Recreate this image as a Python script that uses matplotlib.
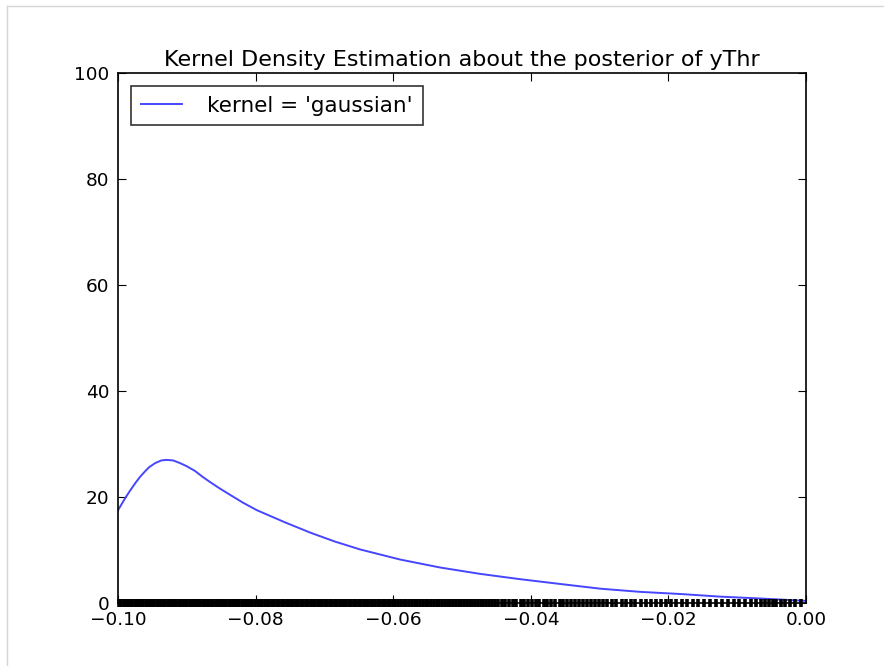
import matplotlib
matplotlib.use('Agg')
import matplotlib.pyplot as plt
from matplotlib.lines import Line2D
from matplotlib.ticker import FuncFormatter

# density curve read along the x axis
kde_x = [-0.1000, -0.0990, -0.0983, -0.0975, -0.0968, -0.0961, -0.0955, -0.0946,
         -0.0937, -0.0929, -0.0920, -0.0910, -0.0900, -0.0888, -0.0877, -0.0866,
         -0.0852, -0.0837, -0.0818, -0.0798, -0.0757, -0.0721, -0.0685, -0.0648,
         -0.0590, -0.0532, -0.0474, -0.0416, -0.0358, -0.0299, -0.0241, -0.0183,
         -0.0125, -0.0067, -0.0030, 0.0000]
kde_y = [17.5, 19.7, 21.1, 22.6, 23.8, 24.8, 25.6, 26.4,
         26.9, 27.0, 26.9, 26.4, 25.8, 24.9, 23.8, 22.8,
         21.6, 20.4, 18.9, 17.5, 15.2, 13.3, 11.6, 10.1,
         8.2, 6.7, 5.5, 4.5, 3.6, 2.7, 2.1, 1.7,
         1.2, 0.85, 0.6, 0.4]

# posterior samples of yThr (rug)
rug_a = [-0.0998, -0.0995, -0.0992, -0.0988, -0.0985, -0.0982, -0.0979, -0.0976, -0.0972, -0.0969,
         -0.0966, -0.0963, -0.0960, -0.0957, -0.0953, -0.0950, -0.0947, -0.0944, -0.0941, -0.0938,
         -0.0934, -0.0931, -0.0928, -0.0925, -0.0922, -0.0919, -0.0915, -0.0912, -0.0909, -0.0906,
         -0.0903, -0.0900, -0.0896, -0.0893, -0.0890, -0.0887, -0.0884, -0.0881, -0.0877, -0.0874,
         -0.0871, -0.0868, -0.0865, -0.0862, -0.0858, -0.0855, -0.0852, -0.0849, -0.0846, -0.0843,
         -0.0839, -0.0836, -0.0833, -0.0830, -0.0827, -0.0824, -0.0820, -0.0817, -0.0814, -0.0811,
         -0.0808, -0.0805, -0.0801]
rug_b = [-0.0797, -0.0794, -0.0790, -0.0787, -0.0783, -0.0780, -0.0776, -0.0773, -0.0769, -0.0766,
         -0.0762, -0.0759, -0.0755, -0.0752, -0.0748, -0.0745, -0.0741, -0.0738, -0.0734, -0.0731,
         -0.0727, -0.0724, -0.0720, -0.0717, -0.0713, -0.0710, -0.0706, -0.0703, -0.0699, -0.0696,
         -0.0692, -0.0689, -0.0685, -0.0682, -0.0678, -0.0675, -0.0671, -0.0668, -0.0664, -0.0661,
         -0.0657, -0.0654, -0.0650, -0.0647, -0.0643, -0.0640, -0.0636, -0.0633, -0.0629, -0.0626,
         -0.0622, -0.0619, -0.0615, -0.0612, -0.0608, -0.0605, -0.0601]
rug_c = [-0.0597, -0.0593, -0.0589, -0.0585, -0.0581, -0.0577, -0.0573, -0.0569, -0.0565, -0.0561,
         -0.0557, -0.0553, -0.0549, -0.0545, -0.0541, -0.0537, -0.0533, -0.0529, -0.0525, -0.0521,
         -0.0517, -0.0513, -0.0509, -0.0505, -0.0501, -0.0497, -0.0493, -0.0489, -0.0485, -0.0481,
         -0.0477, -0.0473, -0.0469, -0.0465, -0.0461, -0.0457]
rug_d = [-0.0452, -0.0447, -0.0442, -0.0437, -0.0431, -0.0426, -0.0421, -0.0415, -0.0410, -0.0404,
         -0.0399, -0.0393, -0.0388, -0.0381, -0.0376, -0.0370, -0.0365, -0.0358, -0.0353, -0.0347,
         -0.0341, -0.0336, -0.0330, -0.0324, -0.0319, -0.0313, -0.0306, -0.0301]
rug_e = [-0.0295, -0.0289, -0.0282, -0.0276, -0.0268, -0.0262, -0.0255, -0.0248, -0.0240, -0.0233,
         -0.0226, -0.0218, -0.0211, -0.0204, -0.0196, -0.0189, -0.0181, -0.0173, -0.0165, -0.0157]
rug_f = [-0.0148, -0.0139, -0.0131, -0.0122, -0.0114, -0.0105, -0.0097, -0.0088, -0.0080, -0.0073,
         -0.0066, -0.0060, -0.0054, -0.0048, -0.0043, -0.0037, -0.0031, -0.0024, -0.0016, -0.0008]
samples = rug_a + rug_b + rug_c + rug_d + rug_e + rug_f

x_ticks = [-0.10, -0.08, -0.06, -0.04, -0.02, 0.00]
y_ticks = [0, 20, 40, 60, 80, 100]

fig = plt.figure(figsize=(8.84, 6.66), dpi=100)
fig.patch.set_facecolor('white')
ax = fig.add_axes([0.1335, 0.0946, 0.7783, 0.7958])

ax.plot(kde_x, kde_y, color='#4646ff', lw=1.4, label="kernel = 'gaussian'")
ax.plot(samples, [0] * len(samples), '|', color='black', markersize=6,
        markeredgewidth=2.6, clip_on=False)

ax.set_xlim(-0.1, 0.0)
ax.set_ylim(0, 100)
ax.set_xticks(x_ticks)
ax.set_yticks(y_ticks)
ax.xaxis.set_major_formatter(FuncFormatter(
    lambda v, p: ('%.2f' % v).replace('-', '\u2212') if abs(v) > 1e-9 else '0.00'))
ax.tick_params(direction='in', length=6, width=0.8, top=True, right=True,
               labelsize=13.3, pad=6, colors='black')
for s in ax.spines.values():
    s.set_linewidth(1.2)

ax.set_title('Kernel Density Estimation about the posterior of yThr',
             fontsize=16, pad=5)

leg = ax.legend(loc='upper left', fontsize=15.5, fancybox=False,
                borderaxespad=0.6, handlelength=1.9, handletextpad=1.2,
                borderpad=0.45)
leg.get_frame().set_edgecolor('black')
leg.get_frame().set_linewidth(1.2)

# thin grey frame along the top and left edges of the page
fig.add_artist(Line2D([7 / 884, 1.0], [1 - 6 / 666, 1 - 6 / 666],
                      transform=fig.transFigure, color='#d6d6d6', lw=1.0))
fig.add_artist(Line2D([7 / 884, 7 / 884], [0.0, 1 - 6 / 666],
                      transform=fig.transFigure, color='#d6d6d6', lw=1.0))

fig.savefig('out.png', dpi=100)
